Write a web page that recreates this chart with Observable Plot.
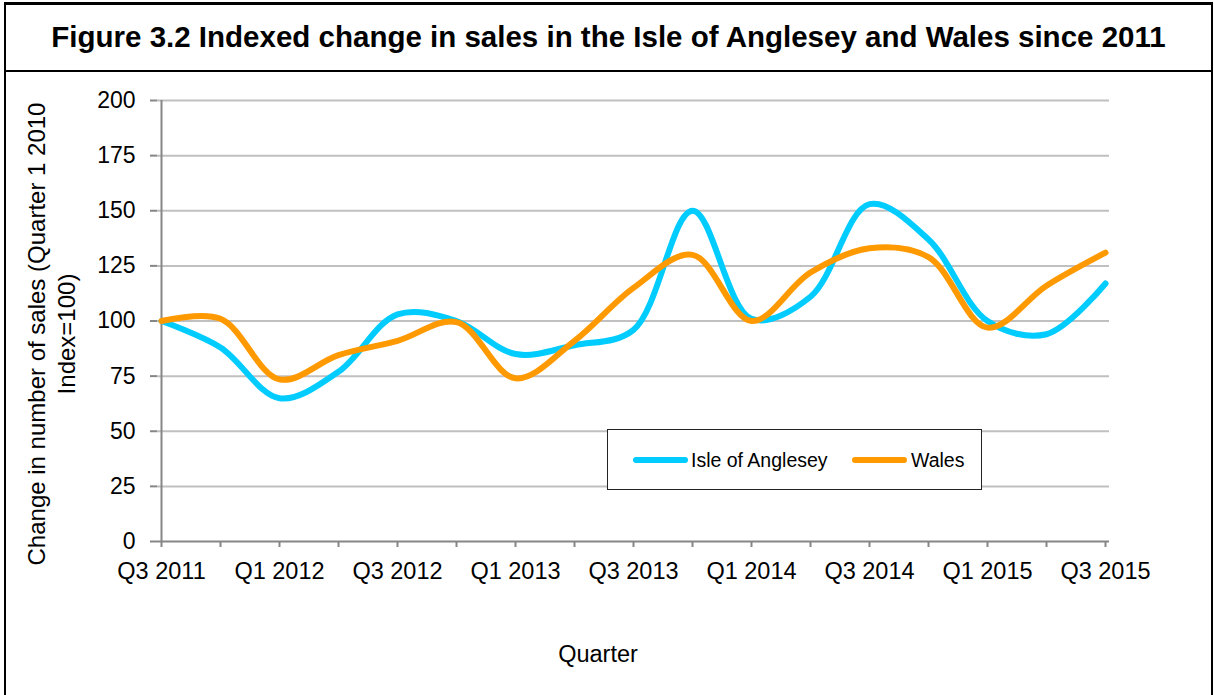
<!DOCTYPE html>
<html>
<head>
<meta charset="utf-8">
<script src="https://cdn.jsdelivr.net/npm/d3@7"></script>
<script src="https://cdn.jsdelivr.net/npm/@observablehq/plot@0.6"></script>
<style>
  html, body { margin: 0; padding: 0; background: #fff; }
  body { width: 1214px; height: 695px; position: relative; overflow: hidden; font-family: "Liberation Sans", Arial, sans-serif; }
  #frame { position: absolute; left: 4px; top: 2px; width: 1205px; height: 720px; border: 2px solid #000; border-top-width: 3px; }
  #title { position: absolute; left: 0; top: 0; width: 1205px; height: 65px; border-bottom: 2px solid #000;
           font-weight: bold; font-size: 29.5px; line-height: 64px; text-align: center; color: #000; }
  #chart { position: absolute; left: 0; top: 72px; }
  #legend { position: absolute; left: 607px; top: 429px; width: 373px; height: 59px; border: 1px solid #222; background: #fff;
            font-size: 19.5px; color: #000; }
  .sw { position: absolute; top: 27px; height: 6px; width: 55px; border-radius: 3px; }
  .lt { position: absolute; top: 18px; line-height: 24px; white-space: nowrap; }
</style>
</head>
<body>
<div id="frame"><div id="title">Figure 3.2 Indexed change in sales in the Isle of Anglesey and Wales since 2011</div></div>
<div id="chart"></div>
<div id="legend">
  <div class="sw" style="left:25px;background:#00CCFF"></div><div class="lt" style="left:83px">Isle of Anglesey</div>
  <div class="sw" style="left:244px;background:#FF9900"></div><div class="lt" style="left:303px">Wales</div>
</div>
<script>
const quarters = ["Q3 2011","Q4 2011","Q1 2012","Q2 2012","Q3 2012","Q4 2012","Q1 2013","Q2 2013","Q3 2013","Q4 2013","Q1 2014","Q2 2014","Q3 2014","Q4 2014","Q1 2015","Q2 2015","Q3 2015"];
const tickLabels = ["Q3 2011","Q1 2012","Q3 2012","Q1 2013","Q3 2013","Q1 2014","Q3 2014","Q1 2015","Q3 2015"];
const anglesey = [100, 88, 65, 77, 103, 100, 85, 89, 96, 150, 101, 111, 153, 137, 100, 94, 117];
const wales    = [100, 101, 73.5, 84.5, 91, 99.5, 74, 91, 115, 130, 100, 122, 133, 129, 97, 116, 131];
const yTicks = [0, 25, 50, 75, 100, 125, 150, 175, 200];
const seriesNames = ["Isle of Anglesey", "Wales"];
const seriesColors = ["#00CCFF", "#FF9900"];

const rows = [];
quarters.forEach((q, i) => {
  rows.push({quarter: q, series: seriesNames[0], value: anglesey[i]});
  rows.push({quarter: q, series: seriesNames[1], value: wales[i]});
});

const font = "'Liberation Sans', Arial, sans-serif";
const plot = Plot.plot({
  width: 1214,
  height: 623,
  marginLeft: 157,
  marginRight: 105,
  marginTop: 28,
  marginBottom: 154,
  style: {fontFamily: font, fontSize: "23px", color: "#000", background: "transparent", overflow: "visible"},
  x: {type: "point", domain: quarters, padding: 0},
  y: {domain: [0, 200]},
  color: {domain: seriesNames, range: seriesColors},
  marks: [
    Plot.gridY(yTicks.filter(d => d > 0), {stroke: "#c0c0c0", strokeOpacity: 1, strokeWidth: 2}),
    Plot.axisY({ticks: yTicks, tickSize: 7, tickPadding: 15, stroke: "#868686", strokeWidth: 2, label: null, fontSize: 23, fill: "#000"}),
    Plot.axisX({ticks: quarters, tickSize: 6, tickPadding: 15, tickFormat: d => tickLabels.includes(d) ? d : "", stroke: "#868686", strokeWidth: 2, label: null, fontSize: 23.5, fill: "#000"}),
    Plot.ruleY([0], {stroke: "#868686", strokeWidth: 2}),
    Plot.ruleX([quarters[0]], {stroke: "#868686", strokeWidth: 2}),
    Plot.line(rows, {x: "quarter", y: "value", z: "series", stroke: "series", strokeWidth: 6, curve: "catmull-rom", strokeLinecap: "round", strokeLinejoin: "round"})
  ]
});
document.getElementById("chart").appendChild(plot);

const svg = d3.select(plot);
svg.append("text").attr("transform", "translate(45,262) rotate(-90)").attr("text-anchor", "middle")
  .style("font-family", font).style("font-size", "24px").attr("fill", "#000")
  .text("Change in number of sales (Quarter 1 2010");
svg.append("text").attr("transform", "translate(75,262) rotate(-90)").attr("text-anchor", "middle")
  .style("font-family", font).style("font-size", "24px").attr("fill", "#000")
  .text("Index=100)");
svg.append("text").attr("x", 598).attr("y", 590).attr("text-anchor", "middle")
  .style("font-family", font).style("font-size", "23.5px").attr("fill", "#000")
  .text("Quarter");
</script>
</body>
</html>
